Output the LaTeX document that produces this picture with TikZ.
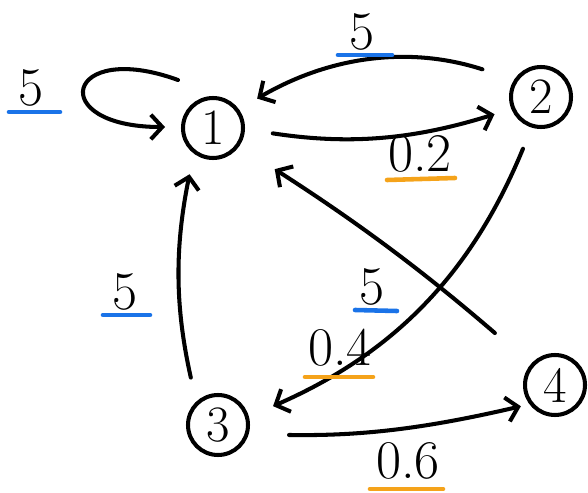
\documentclass[tikz,border=0pt]{standalone}
\usepackage{fontspec}
\usetikzlibrary{arrows.meta}
\definecolor{penblue}{HTML}{1A73E8}
\definecolor{penorange}{HTML}{F5A31A}
\tikzset{
  state/.style={circle, draw, line width=2.3pt, minimum size=1.2cm, inner sep=0pt, font=\fontsize{29}{31}\selectfont},
  edge/.style={-{Straight Barb[length=6.5pt,width=14pt,line width=2.3pt]}, line width=2.3pt, line cap=round},
  wlab/.style={inner sep=0pt, font=\fontsize{31}{33}\selectfont},
  ublue/.style={penblue, line width=2.6pt, line cap=round},
  uorange/.style={penorange, line width=2.6pt, line cap=round}
}
\begin{document}
\begin{tikzpicture}[x=0.02cm, y=-0.02cm]
  \useasboundingbox (0,0) rectangle (588,493);
  % States
  \node[state] (n1) at (213,128) {1};
  \node[state] (n2) at (541,97) {2};
  \node[state] (n3) at (218,425) {3};
  \node[state] (n4) at (555,385) {4};

  % Self loop ends
  \coordinate (loopA) at ([shift={(-35,-48)}]n1.center);
  \coordinate (loopB) at ([shift={(-48,-1)}]n1.center);

  % Edges
  \draw[edge] (loopA) to[out=160, in=180, looseness=6.3] (loopB);
  \draw[edge, shorten <=19pt, shorten >=12pt] (n2.147) to[bend right=24] (n1.36);
  \draw[edge, shorten <=16pt, shorten >=10pt] (n1.-2) to[bend right=13] (n2.202);
  \draw[edge, shorten <=13pt, shorten >=15pt] (n2.253) to[bend left=22] (n3.15);
  \draw[edge, shorten <=27pt, shorten >=24pt] (n4.139) to[bend right=4] (n1.-35);
  \draw[edge, shorten <=14pt, shorten >=12pt] (n3.133) to[bend left=12] (n1.233);
  \draw[edge, shorten <=23pt, shorten >=5pt] (n3.-17) to[bend right=7] (n4.217);

  % Weights
  \node[wlab] (w11) at (31,88) {5};
  \node[wlab] (w21) at (362,32) {5};
  \node[wlab] (w12) at (420,154) {0.2};
  \node[wlab] (w23) at (340,348) {0.4};
  \node[wlab] (w41) at (372,287) {5};
  \node[wlab] (w31) at (125,292) {5};
  \node[wlab] (w34) at (408,461) {0.6};

  % Underlines
  \draw[ublue] ([shift={(-22,24)}]w11.center) -- ([shift={(29,24)}]w11.center);
  \draw[ublue] ([shift={(-24,23)}]w21.center) -- ([shift={(30,23)}]w21.center);
  \draw[uorange] ([shift={(-33,26)}]w12.center) -- ([shift={(35,24)}]w12.center);
  \draw[uorange] ([shift={(-35,29)}]w23.center) -- ([shift={(33,29)}]w23.center);
  \draw[ublue] ([shift={(-17,23)}]w41.center) -- ([shift={(25,24)}]w41.center);
  \draw[ublue] ([shift={(-22,23)}]w31.center) -- ([shift={(25,23)}]w31.center);
  \draw[uorange] ([shift={(-38,28)}]w34.center) -- ([shift={(35,28)}]w34.center);
\end{tikzpicture}
\end{document}
